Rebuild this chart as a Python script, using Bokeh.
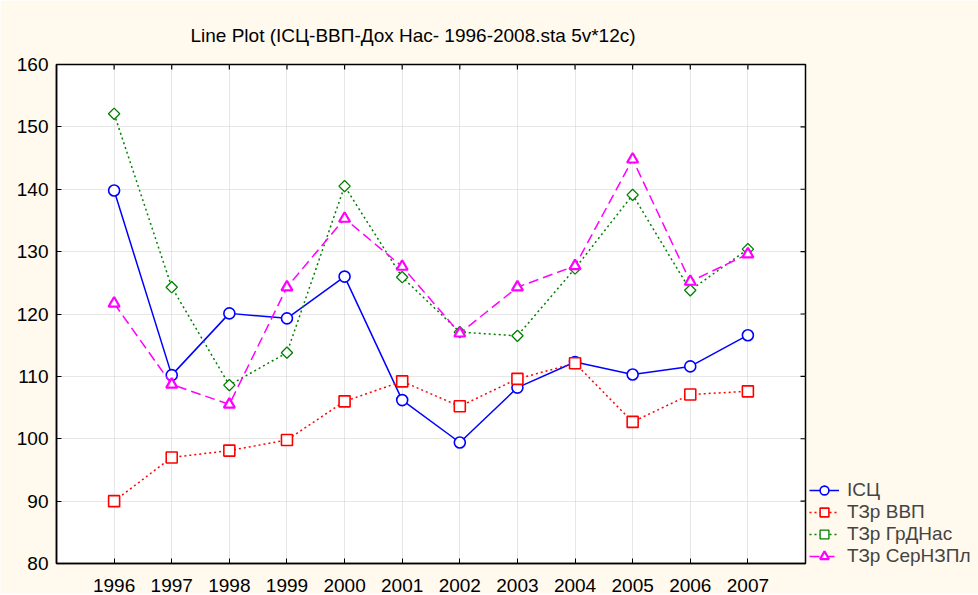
import math
from bokeh.plotting import figure
from bokeh.models import (ColumnDataSource, Range1d, FixedTicker,
                          Legend, LegendItem, Title)
from bokeh.embed import file_html
from bokeh.resources import INLINE

years = [1996, 1997, 1998, 1999, 2000, 2001, 2002, 2003, 2004, 2005, 2006, 2007]
isc = [139.8, 110.2, 120.1, 119.3, 126.0, 106.2, 99.4, 108.2, 112.3, 110.3, 111.6, 116.6]
tzr_vvp = [90.0, 97.0, 98.1, 99.8, 106.0, 109.2, 105.2, 109.6, 112.1, 102.7, 107.1, 107.6]
tzr_grdnas = [152.1, 124.3, 108.6, 113.8, 140.5, 125.9, 117.1, 116.5, 127.3, 139.1, 123.8, 130.4]
tzr_sernzpl = [121.7, 108.7, 105.5, 124.3, 135.3, 127.6, 116.9, 124.3, 127.7, 144.8, 125.2, 129.6]
labels = ["ІСЦ", "ТЗр ВВП", "ТЗр ГрДНас", "ТЗр СерНЗПл"]
title_text = "Line Plot (ІСЦ-ВВП-Дох Нас- 1996-2008.sta 5v*12c)"
y_ticks = [80, 90, 100, 110, 120, 130, 140, 150, 160]
x_lo, x_hi = 1995, 2008
y_lo, y_hi = 80, 160

FONT = "Liberation Sans"
BG = "#fff9ee"

p = figure(frame_width=749, frame_height=499, output_backend="svg",
           toolbar_location=None,
           x_range=Range1d(x_lo, x_hi), y_range=Range1d(y_lo, y_hi),
           min_border_left=56, min_border_right=0, min_border_top=64,
           min_border_bottom=0, background_fill_color="white",
           border_fill_color=BG, outline_line_color="black",
           outline_line_width=1.5)

p.title = Title(text=title_text, text_font=FONT, text_font_size="19px",
                text_font_style="normal", text_color="black", align="left",
                offset=134, standoff=37)

source = ColumnDataSource(dict(x=years, a=isc, b=tzr_vvp, c=tzr_grdnas, d=tzr_sernzpl))

l1 = p.line("x", "a", source=source, color="#0000ff", line_width=1.5)
m1 = p.scatter("x", "a", source=source, marker="circle", size=11,
               line_color="#0000ff", fill_color="white", line_width=1.6)
l2 = p.line("x", "b", source=source, color="#ff0000", line_width=1.5, line_dash="2 3")
m2 = p.scatter("x", "b", source=source, marker="square", size=11,
               line_color="#ff0000", fill_color="white", line_width=1.6)
l3 = p.line("x", "c", source=source, color="#008000", line_width=1.5, line_dash="2 3")
m3 = p.scatter("x", "c", source=source, marker="square", angle=math.pi / 4, size=8,
               line_color="#008000", fill_color="white", line_width=1.3)
l4 = p.line("x", "d", source=source, color="#ff00ff", line_width=1.5, line_dash="10 5")
m4 = p.scatter("x", "d", source=source, marker="triangle", size=11,
               line_color="#ff00ff", fill_color="white", line_width=2.2)

# inward tick marks on the top and right frame edges
p.scatter(x=years, y=[y_hi] * len(years), marker="dash", angle=math.pi / 2,
          size=10, line_color="black", line_width=1.2)
p.scatter(x=[x_hi] * len(y_ticks), y=y_ticks, marker="dash",
          size=10, line_color="black", line_width=1.2)

for ax in (p.xaxis[0], p.yaxis[0]):
    ax.major_tick_in = 5
    ax.major_tick_out = 0
    ax.minor_tick_in = 0
    ax.minor_tick_out = 0
    ax.axis_line_color = "black"
    ax.axis_line_width = 1.5
    ax.major_label_text_font = FONT
    ax.major_label_text_font_size = "19px"
    ax.major_label_text_color = "black"

p.xaxis[0].ticker = FixedTicker(ticks=years)
p.xaxis[0].major_label_standoff = 15
p.yaxis[0].ticker = FixedTicker(ticks=y_ticks)
p.yaxis[0].major_label_standoff = 8

p.xgrid.ticker = FixedTicker(ticks=years)
p.ygrid.ticker = FixedTicker(ticks=y_ticks)
for g in (p.xgrid[0], p.ygrid[0]):
    g.grid_line_color = "#cfcfcf"
    g.grid_line_dash = "1 1"
    g.grid_line_width = 1

legend = Legend(items=[LegendItem(label=labels[0], renderers=[l1, m1]),
                       LegendItem(label=labels[1], renderers=[l2, m2]),
                       LegendItem(label=labels[2], renderers=[l3, m3]),
                       LegendItem(label=labels[3], renderers=[l4, m4])],
                location=(0, -8), background_fill_alpha=0,
                border_line_alpha=0, label_text_font=FONT,
                label_text_font_size="19px", glyph_width=30, glyph_height=22,
                label_height=22, spacing=0, padding=4, margin=1,
                label_standoff=8)
p.add_layout(legend, "right")

open("out.html", "w").write(file_html(p, INLINE))
